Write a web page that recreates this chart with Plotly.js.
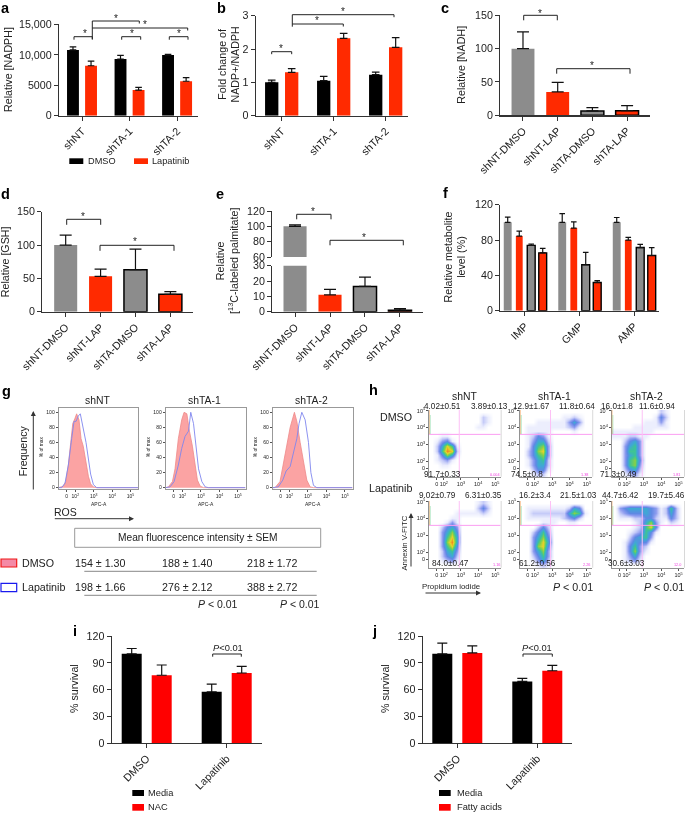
<!DOCTYPE html>
<html><head><meta charset="utf-8">
<script src="https://cdn.plot.ly/plotly-3.0.1.min.js"></script>
<style>html,body{margin:0;padding:0;background:#fff}#plot{width:685px;height:813px;filter:blur(0.35px)}</style>
</head><body><div id="plot"></div>
<script>
// ---------- panel a ----------
const aCategories=['shNT','shTA-1','shTA-2'];
const aDMSO=[10800,9300,9950], aDMSOerr=[500,600,100];
const aLap=[8200,4200,5650], aLapErr=[750,450,600];
// ---------- panel b ----------
const bCategories=['shNT','shTA-1','shTA-2'];
const bDMSO=[1.0,1.05,1.23], bDMSOerr=[0.07,0.13,0.08];
const bLap=[1.3,2.32,2.05], bLapErr=[0.11,0.15,0.29];
// ---------- panels c d e ----------
const treatCategories=['shNT-DMSO','shNT-LAP','shTA-DMSO','shTA-LAP'];
const cValues=[100,35,6.5,7], cErr=[25,14.5,5,7.5];
const dValues=[100,53,63,26], dErr=[15,11,31,4];
const eValues=[100,11,16.5,1], eErr=[2,3.5,6,1];
// ---------- panel f ----------
const fCategories=['IMP','GMP','AMP'];
const fGray=[100,100,100], fGrayErr=[6,10,5.5];
const fRed=[84.5,93.5,80], fRedErr=[5.5,7,3];
const fGrayOut=[74,52,71.5], fGrayOutErr=[1.5,14,3.5];
const fRedOut=[65.5,32,62.5], fRedOutErr=[5,2,9];
// ---------- panels i j ----------
const survCategories=['DMSO','Lapatinib'];
const iMedia=[100,57.5], iMediaErr=[6,8.5], iNAC=[76,78.5], iNACErr=[11.5,7.5];
const jMedia=[100,69], jMediaErr=[12,3.5], jFA=[101,81], jFAErr=[8,6];
// ---------- panel g histograms (log10 APC-A, % of max) ----------
const g1RedX=[1.1,1.35,1.48,1.62,1.75,1.86,1.98,2.07,2.2,2.31,2.43,2.58,2.71,2.83,2.98,3.16,5.4];
const g1RedY=[0,2,8,30,60,85,92,98,90,65,55,35,15,5,1,0,0];
const g1BlueX=[1.1,1.26,1.44,1.62,1.8,1.93,2.04,2.16,2.27,2.43,2.58,2.71,2.83,2.98,3.16,5.4];
const g1BlueY=[0,0,6,30,65,88,88,95,98,80,60,38,18,4,0,0];
const g2RedX=[1.1,1.24,1.46,1.6,1.78,1.96,2.09,2.24,2.38,2.54,2.69,2.81,2.96,3.14,5.4];
const g2RedY=[0,1,8,25,65,90,100,98,75,55,30,10,2,0,0];
const g2BlueX=[1.1,1.33,1.55,1.78,1.96,2.14,2.33,2.45,2.6,2.74,2.87,3.05,3.23,3.41,5.4];
const g2BlueY=[0,1,8,30,52,68,75,100,85,55,25,8,1,0,0];
const g3RedX=[1.1,1.22,1.49,1.67,1.86,2.04,2.27,2.4,2.58,2.76,2.94,3.12,3.3,5.4];
const g3RedY=[0,0,8,30,55,80,100,88,60,35,10,1,0,0];
const g3BlueX=[1.1,1.4,1.64,1.82,2.04,2.22,2.4,2.52,2.67,2.85,3.03,3.16,3.3,3.48,5.4];
const g3BlueY=[0,1,10,22,28,45,65,85,100,90,60,20,3,0,0];
const gTitles=['shNT','shTA-1','shTA-2'];
const gDMSOstats=['154 ± 1.30','188 ± 1.40','218 ± 1.72'];
const gLapStats=['198 ± 1.66','276 ± 2.12','388 ± 2.72'];
// ---------- panel h density grids, top row first, digit = density 0-9 ----------
const hNT_DMSO=["00000000000000","00000000002100","00000000002100","00000000011000","00000000000000","00110000000000","01341000000000","02586100000000","02698200000000","01475100000000","01231000000000","00110000000000","00000000000000","00000000000000"];
const hTA1_DMSO=["00000000000000","00000000112100","00011111135300","01111111123100","01111100001000","01243100000000","01355200000000","01467300000000","02478300000000","02467300000000","01356200000000","01355200000000","00244100000000","00122000000000"];
const hTA2_DMSO=["00000000021000","00000000142000","00000011131000","00001111111000","11111111000000","11122110000000","00245300000000","00356300000000","00366300000000","00356300000000","00367400000000","00367300000000","00245200000000","00123100000000"];
const hNT_Lap=["00000000012100","00000000024200","00000111112100","00001100000000","00013100000000","00245300000000","00357400000000","00368500000000","00379500000000","00368400000000","00256300000000","00245200000000","00123100000000","00000000000000"];
const hTA1_Lap=["00000000000000","01111111125400","01222222257610","01111111234200","00001110011000","00024200000000","00246300000000","00357400000000","00368500000000","00378400000000","00357300000000","00246300000000","00135200000000","00012100000000"];
const hTA2_Lap=["00000000000000","03455554312620","02344454312520","01112244211420","00001257310210","00001268400000","00012364100000","00024563000000","00135441000000","00146320000000","00147310000000","00135200000000","00123100000000","00000000000000"];
const hStats=[
 ['4.02±0.51',442.7,406],['3.89±0.13',489,406],['12.9±1.67',531,406],['11.8±0.64',576.7,406],['16.0±1.8',616.7,406],['11.6±0.94',657.3,406],
 ['91.7±0.33',442.3,474.3],['74.5±0.8',526.7,474.3],['71.3±0.49',618.3,474.3],
 ['9.02±0.79',437.7,496],['6.31±0.35',483.7,496],['16.2±3.4',535.3,496],['21.5±1.03',578.3,496],['44.7±6.42',620.7,496],['19.7±5.46',666,496],
 ['84.0±0.47',450,563.7],['61.2±0.56',537.7,563.7],['30.6±3.03',626,563.7]];
const hCorner=[['0.004',495,474.5],['1.38',584,474.5],['1.81',676,474.5],['1.16',496,565],['2.26',586,565],['12.0',677,565]];

const W=685,H=813;
const FONT='"Liberation Sans", Arial, sans-serif', INK='#222';
const RED='#ff2a00', PURE='#ff0000', GRAY='#8c8c8c';
const traces=[], shapes=[], annotations=[];
const layout={width:W,height:H,autosize:false,margin:{l:0,r:0,t:0,b:0,pad:0},paper_bgcolor:'#fff',plot_bgcolor:'rgba(0,0,0,0)',
 showlegend:false,barmode:'overlay',font:{family:FONT,color:INK,size:10},shapes,annotations};
let n=0;
function axes(l,r,t,b,xo,yo){
 n++;const s=n===1?'':n;
 layout['xaxis'+s]=Object.assign({domain:[l/W,r/W],anchor:'y'+s,fixedrange:true,showgrid:false,zeroline:false,showline:true,linecolor:'#333',linewidth:1.2,
   ticks:'outside',ticklen:4,tickwidth:1,tickcolor:'#333',tickfont:{size:10.7,family:FONT,color:INK},automargin:false},xo);
 layout['yaxis'+s]=Object.assign({domain:[1-b/H,1-t/H],anchor:'x'+s,fixedrange:true,showgrid:false,zeroline:false,showline:true,linecolor:'#333',linewidth:1.2,
   ticks:'outside',ticklen:4,tickwidth:1,tickcolor:'#333',tickfont:{size:10.7,family:FONT,color:INK},automargin:false},yo);
 return {x:'x'+s,y:'y'+s};
}
function bar(ax,cats,vals,errs,color,width,shift,lw,cap){
 traces.push({type:'bar',xaxis:ax.x,yaxis:ax.y,x:cats,y:vals,width:width,offset:shift-width/2,
  marker:{color:color,line:{color:'#000',width:lw||0}},hoverinfo:'skip',
  error_y:{type:'data',symmetric:false,array:errs,arrayminus:errs.map(()=>0),color:'#111',thickness:1.2,width:cap||3.5}});
}
function catAxis(cats,lo,hi){return {type:'category',categoryorder:'array',categoryarray:cats,range:[lo,hi],tickangle:-45};}
function line(x0,y0,x1,y1,color,w){shapes.push({type:'line',xref:'paper',yref:'paper',x0:x0/W,x1:x1/W,y0:1-y0/H,y1:1-y1/H,line:{color:color||'#222',width:w||1}});}
function rect(x0,y0,x1,y1,fill,color,w,op){shapes.push({type:'rect',xref:'paper',yref:'paper',x0:x0/W,x1:x1/W,y0:1-y0/H,y1:1-y1/H,fillcolor:fill,opacity:op||1,line:{color:color||fill,width:w||0}});}
function T(text,x,y,size,o){annotations.push(Object.assign({text:text,xref:'paper',yref:'paper',x:x/W,y:1-y/H,showarrow:false,xanchor:'center',yanchor:'middle',
  font:{size:size||10,family:FONT,color:INK},borderpad:0,borderwidth:0},o||{}));}
function L(text,x,y,size,o){T(text,x,y,size,Object.assign({xanchor:'left'},o||{}));}
function arrow(x,y,x0,y0){annotations.push({xref:'paper',yref:'paper',x:x/W,y:1-y/H,axref:'pixel',ayref:'pixel',ax:x0-x,ay:y0-y,text:'',showarrow:true,arrowhead:2,arrowsize:1,arrowwidth:1,arrowcolor:'#333'});}
function bracket(x0,x1,y,dl,dr){line(x0,y,x1,y,'#222',1);line(x0,y,x0,y+dl,'#222',1);line(x1,y,x1,y+dr,'#222',1);}
function star(x,y){T('*',x,y+2,10);}
function letter(t,x,y){L('<b>'+t+'</b>',x,y,14.5,{font:{size:14.5,family:FONT,color:'#000'}});}

// ----- a
let ax=axes(59,198,24.3,115.7,catAxis(aCategories,-0.484,2.44),{range:[0,15000],tickvals:[0,5000,10000,15000],ticktext:['0','5000','10,000','15,000']});
bar(ax,aCategories,aDMSO,aDMSOerr,'#000',0.25,-0.19,0,3.3);
bar(ax,aCategories,aLap,aLapErr,RED,0.25,0.19,0,3.3);
T('Relative [NADPH]',8,70,10.7,{textangle:-90});
bracket(74,92.3,36.7,3,3);bracket(92.3,139.3,21,18,2.5);line(92.3,28,187.7,28);line(187.7,28,187.7,30.5);
bracket(121.7,140.7,36.7,3,3);bracket(169.3,188,36.7,3,3);
star(84.5,32);star(116,16);star(145,22);star(131.7,32);star(179.3,32);
rect(69.3,158.3,83.3,164,'#000');L('DMSO',88,161,9.2);rect(134,158.3,148,164,RED);L('Lapatinib',152,161,9.2);
// ----- b
ax=axes(255.7,408.3,15.7,115.7,catAxis(bCategories,-0.5,2.435),{range:[0,3],tickvals:[0,1,2,3]});
bar(ax,bCategories,bDMSO,bDMSOerr,'#000',0.256,-0.192,0,3.8);
bar(ax,bCategories,bLap,bLapErr,RED,0.256,0.192,0,3.8);
T('Fold change of<br>NADP+/NADPH',228.5,65,10.7,{textangle:-90});
bracket(292.3,394,14.7,12,2.5);line(292.3,24,343.3,24);line(343.3,24,343.3,26.5);bracket(271.7,291.7,51.7,2.5,2.5);
star(342.7,9);star(317.3,19);star(281.3,47);
// ----- c
const barCol=[GRAY,RED,GRAY,RED], barLw=[0,0,1.5,1.5];
ax=axes(500.3,650,15.3,115.3,catAxis(treatCategories,-0.654,3.66),{range:[0,150],tickvals:[0,50,100,150]});
bar(ax,treatCategories,cValues,cErr,barCol,0.66,0,barLw,6);
T('Relative [NADH]',460.7,65,10.7,{textangle:-90});
bracket(523.7,557.3,15.3,5,5);bracket(556.7,630,68.7,5,5);star(539.7,11);star(591.7,63.3);
// ----- d
ax=axes(42.3,192.7,211.7,311.7,catAxis(treatCategories,-0.67,3.64),{range:[0,150],tickvals:[0,50,100,150]});
bar(ax,treatCategories,dValues,dErr,barCol,0.66,0,barLw,6);
T('Relative [GSH]',4.5,261.7,10.7,{textangle:-90});
bracket(66.7,100.7,219.3,5.5,5.5);bracket(100,174,245.3,5.5,5.5);star(83.3,215);star(135,240);
// ----- e (broken axis: lower and upper part share the values)
const eLowerX=catAxis(treatCategories,-0.65,3.65);
ax=axes(272.3,422.7,265.7,311.7,eLowerX,{range:[0,30],tickvals:[0,10,20,30]});
bar(ax,treatCategories,eValues,eErr,barCol,0.66,0,barLw,6);
ax=axes(272.3,422.7,211,257,Object.assign({},eLowerX,{visible:false}),{range:[60,120],tickvals:[60,80,100,120]});
bar(ax,treatCategories,eValues,eErr,barCol,0.66,0,barLw,6);
T('Relative<br>[<sup>13</sup>C-labeled palmitate]',227,261,10.7,{textangle:-90});
bracket(296.7,331,214.3,5,5);bracket(330,403.3,240.3,5,5);star(313.3,209.3);star(364.3,235);
// ----- f
ax=axes(500.3,659.3,204.7,310.7,catAxis(fCategories,-0.453,2.464),{range:[0,120],tickvals:[0,40,80,120]});
bar(ax,fCategories,fGray,fGrayErr,GRAY,0.145,-0.317,0,2.8);
bar(ax,fCategories,fRed,fRedErr,RED,0.125,-0.105,0,2.8);
bar(ax,fCategories,fGrayOut,fGrayOutErr,GRAY,0.145,0.114,1.4,2.8);
bar(ax,fCategories,fRedOut,fRedOutErr,RED,0.145,0.325,1.4,2.8);
T('Relative metabolite<br>level (%)',454.5,257,10.7,{textangle:-90});
// ----- g
const gBoxes=[[58.7,138.3],[165.7,245.7],[272.7,352.7]];
const gData=[[g1RedX,g1RedY,g1BlueX,g1BlueY],[g2RedX,g2RedY,g2BlueX,g2BlueY],[g3RedX,g3RedY,g3BlueX,g3BlueY]];
const decadeLabels=['0','10<sup>2</sup>','10<sup>3</sup>','10<sup>4</sup>','10<sup>5</sup>'];
gBoxes.forEach((b,i)=>{
 const a=axes(b[0],b[1],408.3,489,{range:[1.096,5.42],tickvals:[1.53,2,3,4,5],ticktext:decadeLabels,tickfont:{size:5,family:FONT,color:INK},ticklen:2,tickangle:0,linecolor:'#999',mirror:true,linewidth:1,tickcolor:'#555'},
   {range:[-1.8,105.3],tickvals:[0,20,40,60,80,100],tickfont:{size:5,family:FONT,color:INK},ticklen:2,linecolor:'#999',mirror:true,linewidth:1,tickcolor:'#555'});
 const d=gData[i];
 traces.push({type:'scatter',mode:'lines',xaxis:a.x,yaxis:a.y,x:d[0],y:d[1],fill:'tozeroy',fillcolor:'#fba3a3',line:{color:'#ee8a8a',width:0.8},hoverinfo:'skip'});
 traces.push({type:'scatter',mode:'lines',xaxis:a.x,yaxis:a.y,x:d[2],y:d[3],line:{color:'#7f86ee',width:0.9},hoverinfo:'skip'});
 T('APC-A',(b[0]+b[1])/2+0.5,504,5);
 T('% of max',b[0]-17.5,447,4.8,{textangle:-90});
 T(gTitles[i],[97.3,204,311.7][i],400.7,10.4);
 T(gDMSOstats[i],[100,186.7,272.3][i],563.3,10.7);
 T(gLapStats[i],[100,186.7,272.3][i],587.3,10.7);
});
T('Frequency',23.3,451,10.6,{textangle:-90});arrow(33.3,411,33.3,491);
L('ROS',54,511.7,10.5);arrow(134,518.7,53.3,518.7);
rect(74.7,528.3,320.7,547.3,'rgba(0,0,0,0)','#999',1);T('Mean fluorescence intensity ± SEM',197.7,537.7,10.2);
line(84.3,571.3,316.7,571.3,'#888',1);line(84.3,595.3,316.7,595.3,'#888',1);
T('<i>P</i> &lt; 0.01',218.3,604.3,10.5);T('<i>P</i> &lt; 0.01',300,604.3,10.5);
rect(1,559,16.7,567,'#f48aa6','#f01818',1.2);L('DMSO',22,563,10.7);
rect(1,583.3,16.7,591.7,'#fff','#1a1aee',1.2);L('Lapatinib',22,587,10.7);
// ----- h
const hScale=[[0,'#ffffff'],[0.11,'#eceefd'],[0.22,'#c6ccf8'],[0.33,'#8f9df0'],[0.44,'#5f88e4'],[0.55,'#3fa8d6'],[0.66,'#3cc398'],[0.77,'#84d048'],[0.88,'#e6d42a'],[1,'#f08a20']];
const hBoxes=[[429,500.7,410,476.7,hNT_DMSO],[520,592.3,410,476.7,hTA1_DMSO],[611.7,684,410,476.7,hTA2_DMSO],
              [429,500.7,501,567.7,hNT_Lap],[520,592.3,501,567.7,hTA1_Lap],[611.7,684,501,567.7,hTA2_Lap]];
hBoxes.forEach(b=>{
 const a=axes(b[0],b[1],b[2],b[3],{range:[1.14,5.31],tickvals:[1.59,2,3,4,5],ticktext:decadeLabels,tickfont:{size:5.5,family:FONT,color:INK},ticklen:2,tickangle:0,linecolor:'#777',linewidth:0.8,tickcolor:'#555'},
   {range:[1.07,5.04],tickvals:[1.56,2,3,4,5],ticktext:decadeLabels,tickfont:{size:5.5,family:FONT,color:INK},ticklen:2,linecolor:'#777',linewidth:0.8,tickcolor:'#555'});
 const rows=b[4];
 const dx=(5.31-1.14)/14, dy=(5.04-1.07)/14;
 const xs=rows[0].split('').map((_,i)=>1.14+dx*(i+0.5));
 const ys=rows.map((_,i)=>5.04-dy*(i+0.5));
 traces.push({type:'heatmap',xaxis:a.x,yaxis:a.y,x:xs,y:ys,z:rows.map(r=>r.split('').map(Number)),zmin:0,zmax:9,zsmooth:'best',colorscale:hScale,showscale:false,hoverinfo:'skip'});
 shapes.push({type:'line',xref:a.x,yref:a.y,x0:1.14,x1:5.31,y0:3.59,y1:3.59,line:{color:'#fb9df2',width:1}});
 shapes.push({type:'line',xref:a.x,yref:a.y,x0:2.9,x1:2.9,y0:1.07,y1:5.04,line:{color:'#fdc0f6',width:1}});
 rect(b[0],b[2],b[0]+0.8,b[2]+24,'#f0923a',null,0,0.55);
 rect(b[0]+0.8,b[2]+5,b[0]+1.6,b[2]+24,'#4cc77a',null,0,0.5);
 rect(b[1],b[2],b[1]+0.9,b[3],'#d4d4d4');
});
T('shNT',464,396.7,10.4);T('shTA-1',554.7,396.7,10.4);T('shTA-2',646.7,396.7,10.4);
T('DMSO',396,417.3,10.7);T('Lapatinib',390,488.3,10.7);
hStats.forEach(s=>T(s[0],s[1],s[2],8.2));
hCorner.forEach(s=>T(s[0],s[1],s[2],3.8,{font:{size:3.8,family:FONT,color:'#f040e0'}}));
T('Annexin V-FITC',404.3,543.3,7.8,{textangle:-90});arrow(411,513,411,568);
T('Propidium iodide',450.7,586,7.8);arrow(481,593,424,593);
T('<i>P</i> &lt; 0.01',573.3,587.3,10.7);T('<i>P</i> &lt; 0.01',664.3,587.3,10.7);
// ----- i
ax=axes(111.7,261.7,636,743,catAxis(survCategories,-0.4375,1.4375),{range:[0,120],tickvals:[0,30,60,90,120]});
bar(ax,survCategories,iMedia,iMediaErr,'#000',0.25,-0.1875,0,5);
bar(ax,survCategories,iNAC,iNACErr,PURE,0.25,0.1875,0,5);
T('% survival',74,689,10.7,{textangle:-90});
bracket(212.7,241.3,654,2.7,2.7);T('<i>P</i>&lt;0.01',227.7,647.7,9.3);
rect(132.3,790,144,796,'#000');L('Media',147.5,793,9.3);rect(132.3,804,144,810.7,PURE);L('NAC',147.5,807,9.3);
// ----- j
ax=axes(422.7,572.3,636,743,catAxis(survCategories,-0.4325,1.4375),{range:[0,120],tickvals:[0,30,60,90,120]});
bar(ax,survCategories,jMedia,jMediaErr,'#000',0.25,-0.1875,0,5);
bar(ax,survCategories,jFA,jFAErr,PURE,0.25,0.1875,0,5);
T('% survival',385,689,10.7,{textangle:-90});
bracket(523,552.3,654,2.7,2.7);T('<i>P</i>&lt;0.01',537.3,647.7,9.3);
rect(439,790,450.7,796,'#000');L('Media',456.7,793,9.3);rect(439,804,450.7,810.7,PURE);L('Fatty acids',456.7,807,9.3);
// ----- letters
[['a',1,8.5],['b',216.7,8.5],['c',440.7,8.5],['d',1,194],['e',216,194],['f',442.7,193],['g',2,391],['h',369,390],['i',72.7,631],['j',371.7,631]].forEach(l=>letter(l[0],l[1],l[2]));

Plotly.newPlot('plot',traces,layout,{staticPlot:true,displayModeBar:false});
</script></body></html>
